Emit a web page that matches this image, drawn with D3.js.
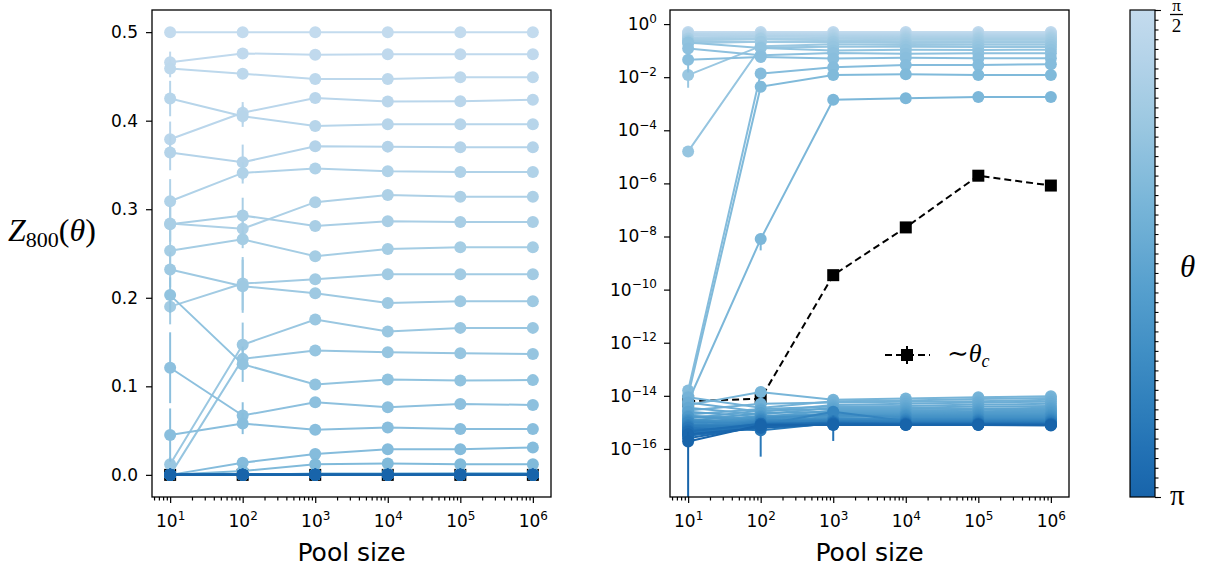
<!DOCTYPE html>
<html>
<head>
<meta charset="utf-8">
<script src="https://cdn.jsdelivr.net/npm/d3@7"></script>
<style>
body { margin: 0; background: #fff; }
svg text { font-family: "DejaVu Sans", sans-serif; fill: #000; }
svg text.serif { font-family: "Liberation Serif", "DejaVu Serif", serif; }
</style>
</head>
<body>
<svg id="chart" width="1209" height="572"></svg>
<script>
// pool sizes on the x axis and tick exponents
const poolSizes = [1e1, 1e2, 1e3, 1e4, 1e5, 1e6];
const leftYTicks = [0, 0.1, 0.2, 0.3, 0.4, 0.5];
const rightYTickExps = [0, -2, -4, -6, -8, -10, -12, -14, -16];

// Z_800(theta) for the 20 lightest theta values (theta index 0..19)
const openSeries = [
    [0.5, 0.5, 0.5, 0.5, 0.5, 0.5],
    [0.466, 0.476, 0.4745, 0.475, 0.475, 0.475],
    [0.459, 0.453, 0.447, 0.447, 0.449, 0.449],
    [0.379, 0.409, 0.4255, 0.4216, 0.422, 0.4236],
    [0.425, 0.405, 0.394, 0.396, 0.396, 0.396],
    [0.364, 0.353, 0.371, 0.3707, 0.370, 0.370],
    [0.309, 0.341, 0.346, 0.343, 0.342, 0.342],
    [0.284, 0.278, 0.308, 0.316, 0.314, 0.314],
    [0.283, 0.293, 0.281, 0.2865, 0.2857, 0.2857],
    [0.253, 0.266, 0.247, 0.255, 0.257, 0.257],
    [0.19, 0.216, 0.221, 0.2265, 0.2265, 0.2265],
    [0.232, 0.213, 0.205, 0.194, 0.196, 0.196],
    [0.012, 0.147, 0.1755, 0.162, 0.166, 0.166],
    [1.6e-5, 0.131, 0.1404, 0.1385, 0.1374, 0.1366],
    [0.203, 0.125, 0.102, 0.1076, 0.1065, 0.107],
    [0.121, 0.067, 0.082, 0.0763, 0.080, 0.079],
    [0.045, 0.058, 0.051, 0.0536, 0.0517, 0.0517],
    [1.6e-14, 0.0137, 0.0236, 0.029, 0.029, 0.031],
    [1.0e-14, 0.0044, 0.012, 0.0128, 0.012, 0.012],
    [6e-15, 8e-9, 1.4e-3, 1.6e-3, 1.8e-3, 1.8e-3]
];

// log10 of Z_800(theta) for the darker theta values (index 20..50), all at machine precision
const nearZeroExp = [
    [-14.35, -13.86, -14.15, -14.10, -14.05, -14.02],
    [-14.05, -14.45, -14.20, -14.18, -14.12, -14.08],
    [-14.55, -14.30, -14.25, -14.22, -14.20, -14.15],
    [-14.25, -14.60, -14.35, -14.30, -14.25, -14.22],
    [-14.70, -14.50, -14.40, -14.38, -14.33, -14.30],
    [-14.45, -14.70, -14.45, -14.45, -14.40, -14.38],
    [-14.85, -14.55, -14.50, -14.50, -14.48, -14.45],
    [-14.60, -14.80, -14.55, -14.55, -14.52, -14.50],
    [-14.95, -14.65, -14.60, -14.60, -14.58, -14.55],
    [-14.75, -14.85, -14.65, -14.65, -14.62, -14.60],
    [-15.05, -14.75, -14.70, -14.68, -14.66, -14.65],
    [-14.80, -14.90, -14.72, -14.72, -14.70, -14.70],
    [-15.10, -14.80, -14.76, -14.75, -14.74, -14.74],
    [-14.90, -14.95, -14.80, -14.78, -14.78, -14.78],
    [-15.20, -14.85, -14.70, -14.82, -14.82, -14.82],
    [-14.95, -15.00, -14.85, -14.85, -14.85, -14.85],
    [-15.25, -14.90, -14.88, -14.88, -14.88, -14.88],
    [-15.00, -15.05, -14.90, -14.90, -14.91, -14.91],
    [-15.30, -14.95, -14.92, -14.93, -14.93, -14.94],
    [-15.10, -15.10, -14.60, -14.95, -14.95, -14.96],
    [-15.35, -15.00, -14.95, -14.97, -14.97, -14.98],
    [-15.15, -15.15, -14.97, -14.99, -14.99, -15.00],
    [-15.40, -15.05, -15.00, -15.01, -15.01, -15.02],
    [-15.20, -15.30, -15.02, -15.02, -15.03, -15.04],
    [-15.45, -15.10, -15.05, -15.04, -15.04, -15.05],
    [-15.30, -15.15, -15.00, -15.05, -15.05, -15.06],
    [-15.50, -15.20, -15.06, -15.06, -15.06, -15.07],
    [-15.35, -15.05, -15.04, -15.07, -15.07, -15.08],
    [-15.60, -15.15, -15.08, -15.08, -15.08, -15.09],
    [-15.45, -15.20, -15.05, -15.09, -15.09, -15.10],
    [-15.72, -15.10, -15.10, -15.10, -15.10, -15.12]
];

// the ~theta_c series (black squares)
const thetaCSeries = [6.3e-15, 7.8e-15, 3.5e-10, 2.2e-8, 1.95e-6, 8.3e-7];

// error bars: [series index, pool index, error]
const errBars = [
    [1, 0, 0.012], [2, 0, 0.01], [3, 0, 0.02], [4, 0, 0.02], [5, 0, 0.02], [6, 0, 0.025],
    [7, 0, 0.02], [8, 0, 0.02], [9, 0, 0.025], [10, 0, 0.02], [11, 0, 0.02], [12, 0, 0.008],
    [14, 0, 0.02], [15, 0, 0.04], [16, 0, 0.03],
    [3, 1, 0.012], [4, 1, 0.012], [5, 1, 0.02], [6, 1, 0.012], [7, 1, 0.012], [8, 1, 0.02],
    [9, 1, 0.01], [10, 1, 0.03], [11, 1, 0.03], [12, 1, 0.025], [14, 1, 0.02], [15, 1, 0.015],
    [16, 1, 0.012], [19, 1, 5e-9],
    [50, 0, 2.5e-16], [43, 1, 4.5e-16], [45, 2, 8e-16]
];

const series = openSeries.concat(nearZeroExp.map(r => r.map(e => Math.pow(10, e))));
const nTheta = series.length;
const thetaMin = Math.PI / 2, thetaMax = Math.PI;
const thetas = series.map((s, i) => thetaMin + i * (thetaMax - thetaMin) / (nTheta - 1));

const colorT = d3.scaleLinear().domain([thetaMin, thetaMax]).range([0.25, 0.8]);
const colorOf = th => d3.interpolateBlues(colorT(th));

const svg = d3.select("#chart");
const plotTop = 10, plotBottom = 497;

const xDomain = [Math.pow(10, 0.75), Math.pow(10, 6.25)];
const xLeft = d3.scaleLog().domain(xDomain).range([152, 551]);
const xRight = d3.scaleLog().domain(xDomain).range([670, 1069]);
const yLeft = d3.scaleLinear().domain([-0.025, 0.525]).range([plotBottom, plotTop]);
const yRight = d3.scaleLog().domain([Math.pow(10, -17.81), Math.pow(10, 0.53)]).range([plotBottom, plotTop]);

function minorTicks(domain) {
    const out = [];
    for (let e = Math.floor(Math.log10(domain[0])); e <= Math.ceil(Math.log10(domain[1])); e++) {
        for (let k = 2; k <= 9; k++) {
            const v = k * Math.pow(10, e);
            if (v >= domain[0] && v <= domain[1]) out.push(v);
        }
    }
    return out;
}

function powLabel(sel, exp, supDy) {
    sel.text(null);
    sel.append("tspan").text("10");
    sel.append("tspan").attr("font-size", 12).attr("dy", supDy)
        .text(exp < 0 ? "\u2212" + (-exp) : String(exp));
}

function drawPanel(x, y, isLog, id) {
    const x0 = x.range()[0], x1 = x.range()[1];
    svg.append("clipPath").attr("id", id)
        .append("rect").attr("x", x0).attr("y", plotTop).attr("width", x1 - x0).attr("height", plotBottom - plotTop);

    const plot = svg.append("g").attr("clip-path", `url(#${id})`);

    // theta_c series drawn first
    const pts = poolSizes.map((p, i) => [p, thetaCSeries[i]]);
    plot.append("path")
        .datum(pts)
        .attr("d", d3.line().x(d => x(d[0])).y(d => y(d[1])))
        .attr("fill", "none").attr("stroke", "#000").attr("stroke-width", 2)
        .attr("stroke-dasharray", "7,4");
    plot.selectAll(null).data(pts).enter().append("rect")
        .attr("x", d => x(d[0]) - 6).attr("y", d => y(d[1]) - 6)
        .attr("width", 12).attr("height", 12).attr("fill", "#000");

    const yMin = y.domain()[0];
    series.forEach((s, si) => {
        const c = colorOf(thetas[si]);
        const d = poolSizes.map((p, i) => [p, s[i]]);
        const g = plot.append("g");
        g.append("path").datum(d)
            .attr("d", d3.line().x(v => x(v[0])).y(v => y(v[1])))
            .attr("fill", "none").attr("stroke", c).attr("stroke-width", 2);
        errBars.filter(e => e[0] === si).forEach(e => {
            const v = s[e[1]];
            let lo = v - e[2];
            if (isLog && lo <= 0) lo = yMin;
            g.append("line")
                .attr("x1", x(poolSizes[e[1]])).attr("x2", x(poolSizes[e[1]]))
                .attr("y1", y(lo)).attr("y2", y(v + e[2]))
                .attr("stroke", c).attr("stroke-width", 2);
        });
        g.selectAll(null).data(d).enter().append("circle")
            .attr("cx", v => x(v[0])).attr("cy", v => y(v[1]))
            .attr("r", 6).attr("fill", c);
    });

    // x axis
    const xa = svg.append("g").attr("transform", `translate(0,${plotBottom})`);
    xa.append("g").call(d3.axisBottom(x).tickValues(minorTicks(xDomain)).tickSize(3.5).tickFormat(""));
    const xm = xa.append("g").call(d3.axisBottom(x).tickValues(poolSizes).tickSize(6).tickPadding(12).tickSizeOuter(0).tickFormat(""));
    xm.selectAll(".tick text").each(function(d) {
        powLabel(d3.select(this).attr("font-size", 17), Math.round(Math.log10(d)), "-0.6em");
    });

    // y axis
    const ya = svg.append("g").attr("transform", `translate(${x0},0)`);
    if (isLog) {
        ya.call(d3.axisLeft(y).tickValues(rightYTickExps.map(e => Math.pow(10, e)))
            .tickSize(6).tickPadding(7).tickSizeOuter(0).tickFormat(""));
        ya.selectAll(".tick text").each(function(d) {
            powLabel(d3.select(this).attr("font-size", 17), Math.round(Math.log10(d)), "-0.6em");
        });
    } else {
        ya.call(d3.axisLeft(y).tickValues(leftYTicks).tickSize(6).tickPadding(8)
            .tickSizeOuter(0).tickFormat(d3.format(".1f")));
        ya.selectAll(".tick text").attr("font-size", 17);
    }
    svg.selectAll(".domain").remove();
    svg.selectAll(".tick line").attr("stroke-width", 1.2);

    svg.append("rect").attr("x", x0).attr("y", plotTop).attr("width", x1 - x0).attr("height", plotBottom - plotTop)
        .attr("fill", "none").attr("stroke", "#000").attr("stroke-width", 1.3);

    svg.append("text").attr("x", (x0 + x1) / 2).attr("y", 561)
        .attr("text-anchor", "middle").attr("font-size", 25).text("Pool size");
}

drawPanel(xLeft, yLeft, false, "clipL");
drawPanel(xRight, yRight, true, "clipR");

// y label of the left panel
const yl = svg.append("text").attr("class", "serif").attr("x", 8).attr("y", 241).attr("font-size", 32);
yl.append("tspan").attr("font-style", "italic").text("Z");
yl.append("tspan").attr("font-size", 22).attr("dy", 6).text("800");
yl.append("tspan").attr("dy", -6).text("(");
yl.append("tspan").attr("font-style", "italic").text("\u03b8");
yl.append("tspan").text(")");

// legend in the right panel
const lg = svg.append("g");
lg.append("line").attr("x1", 885).attr("x2", 930).attr("y1", 355).attr("y2", 355)
    .attr("stroke", "#000").attr("stroke-width", 2).attr("stroke-dasharray", "7,4");
lg.append("line").attr("x1", 907).attr("x2", 907).attr("y1", 346).attr("y2", 364)
    .attr("stroke", "#000").attr("stroke-width", 2);
lg.append("rect").attr("x", 901).attr("y", 349).attr("width", 12).attr("height", 12).attr("fill", "#000");
const lt = lg.append("text").attr("class", "serif").attr("x", 947).attr("y", 362).attr("font-size", 26);
lt.append("tspan").text("\u223c");
lt.append("tspan").attr("font-style", "italic").text("\u03b8");
lt.append("tspan").attr("font-style", "italic").attr("font-size", 18).attr("dy", 5).text("c");

// colorbar
const cbX = 1130, cbW = 25;
const cbScale = d3.scaleLinear().domain([thetaMin, thetaMax]).range([plotTop, plotBottom]);
const grad = svg.append("defs").append("linearGradient").attr("id", "cbGrad")
    .attr("x1", 0).attr("x2", 0).attr("y1", 0).attr("y2", 1);
d3.range(0, 1.0001, 0.05).forEach(t => {
    grad.append("stop").attr("offset", t)
        .attr("stop-color", colorOf(thetaMin + t * (thetaMax - thetaMin)));
});
svg.append("rect").attr("x", cbX).attr("y", plotTop).attr("width", cbW).attr("height", plotBottom - plotTop)
    .attr("fill", "url(#cbGrad)").attr("stroke", "#000").attr("stroke-width", 1.2);
const cba = svg.append("g").attr("transform", `translate(${cbX + cbW},0)`);
cba.append("g").call(d3.axisRight(cbScale).tickValues(thetas).tickSize(3.5).tickFormat(""));
cba.append("g").call(d3.axisRight(cbScale).tickValues([thetaMin, thetaMax]).tickSize(6).tickFormat(""));
cba.selectAll(".domain").remove();
cba.selectAll(".tick line").attr("stroke-width", 1.1);

// colorbar tick labels: pi/2 and pi
const fr = svg.append("g");
fr.append("text").attr("class", "serif").attr("x", 1176.5).attr("y", 11)
    .attr("text-anchor", "middle").attr("font-size", 17).text("\u03c0");
fr.append("line").attr("x1", 1170).attr("x2", 1183).attr("y1", 14.5).attr("y2", 14.5)
    .attr("stroke", "#000").attr("stroke-width", 1.3);
fr.append("text").attr("class", "serif").attr("x", 1176.5).attr("y", 32)
    .attr("text-anchor", "middle").attr("font-size", 19).text("2");
svg.append("text").attr("class", "serif").attr("x", 1170).attr("y", 505)
    .attr("font-size", 29).text("\u03c0");

svg.append("text").attr("class", "serif").attr("x", 1180).attr("y", 277)
    .attr("font-size", 31).attr("font-style", "italic").text("\u03b8");
</script>
</body>
</html>
